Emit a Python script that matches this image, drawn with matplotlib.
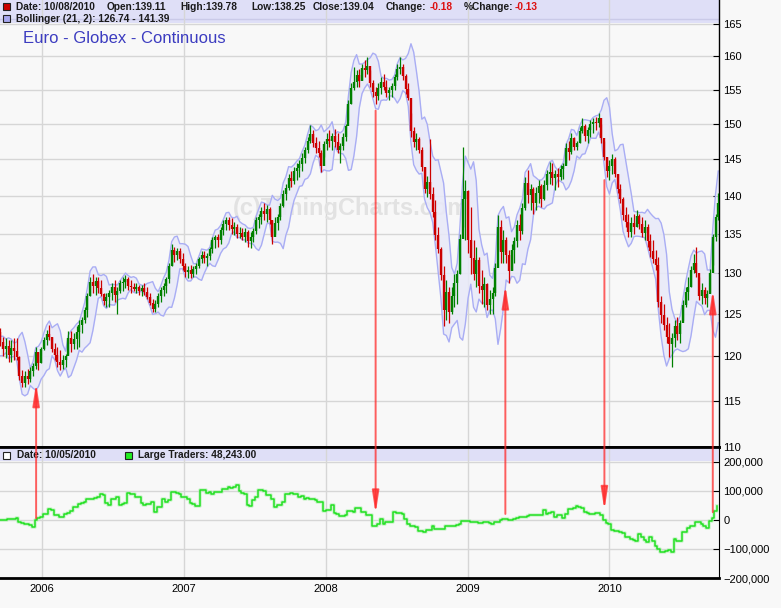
import numpy as np
import pandas as pd
import matplotlib
matplotlib.use("Agg")
import matplotlib.pyplot as plt
import matplotlib.dates as mdates
from matplotlib.patches import Rectangle, ConnectionPatch
from matplotlib.ticker import FixedLocator, FuncFormatter, NullLocator

plt.rcParams['font.family'] = ['Liberation Sans', 'DejaVu Sans']

# Weekly Euro FX (Globex continuous)
weeks = pd.date_range("2005-09-16", periods=265, freq="7D")
first_open = 122.8
wk_low = [
    121.2, 120.0, 119.8, 119.4, 119.4, 119.6, 119.6, 117.3, 116.5, 116.5,
    116.9, 117.1, 117.7, 118.6, 118.4, 119.2, 120.7, 121.3, 121.9, 120.5,
    119.6, 118.8, 118.4, 118.6, 118.8, 120.3, 120.5, 120.9, 120.9, 121.1,
    122.7, 123.9, 124.6, 127.1, 127.5, 127.3, 127.5, 127.1, 126.0, 125.8,
    125.8, 126.6, 126.4, 125.0, 127.5, 127.7, 128.1, 127.9, 127.5, 127.7,
    127.5, 127.3, 127.1, 127.3, 126.8, 126.0, 125.2, 125.2, 125.8, 126.4,
    127.1, 127.5, 128.7, 130.8, 131.4, 131.6, 131.2, 130.4, 129.5, 129.3,
    129.3, 129.5, 129.9, 130.6, 131.2, 131.2, 130.8, 131.6, 132.5, 133.1,
    133.3, 133.7, 134.8, 135.4, 135.4, 135.0, 134.8, 134.4, 134.4, 134.1,
    133.9, 133.3, 133.1, 133.9, 135.0, 135.7, 136.3, 136.7, 136.5, 136.3,
    133.7, 135.0, 135.5, 136.7, 138.5, 139.4, 140.7, 141.2, 141.6, 142.1,
    142.5, 143.4, 144.4, 145.8, 147.2, 146.7, 145.8, 145.3, 143.2, 145.3,
    146.2, 146.7, 146.2, 146.7, 145.8, 144.4, 146.2, 147.6, 150.5, 152.9,
    154.9, 155.4, 155.4, 156.4, 156.9, 157.4, 155.4, 153.9, 152.9, 153.4,
    154.4, 154.9, 153.9, 153.4, 153.9, 154.9, 156.4, 157.4, 156.4, 154.4,
    153.4, 148.1, 146.7, 146.2, 145.8, 143.4, 140.3, 139.8, 139.6, 137.2,
    134.1, 132.5, 129.1, 123.5, 124.2, 123.9, 125.0, 125.8, 126.2, 129.9,
    135.9, 134.1, 132.5, 129.9, 129.1, 128.3, 127.5, 126.2, 125.8, 125.4,
    125.0, 125.0, 127.1, 132.9, 131.2, 131.2, 131.2, 128.7, 130.4, 131.2,
    133.3, 134.2, 135.0, 138.1, 139.0, 138.1, 137.6, 138.1, 139.0, 138.5,
    139.4, 140.7, 141.6, 141.4, 140.7, 141.2, 142.1, 142.3, 144.4, 144.8,
    145.7, 146.2, 146.2, 147.2, 148.6, 147.6, 147.2, 148.1, 148.6, 149.1,
    149.5, 147.2, 144.8, 142.5, 142.1, 143.0, 142.5, 140.3, 139.0, 136.8,
    135.9, 134.6, 134.6, 135.0, 135.9, 135.6, 134.6, 134.2, 133.3, 132.0,
    131.2, 130.4, 125.8, 123.9, 123.1, 121.5, 119.9, 118.8, 121.1, 121.9,
    121.5, 124.2, 125.8, 126.6, 128.3, 130.0, 129.5, 126.6, 126.2, 126.2,
    125.8, 127.5, 131.0, 134.0, 136.8,
]
wk_high = [
    123.3, 122.3, 122.1, 121.9, 121.9, 122.1, 122.1, 120.0, 118.4, 118.3,
    118.6, 118.8, 119.2, 121.1, 120.5, 121.1, 122.3, 123.1, 123.7, 122.3,
    121.5, 121.1, 120.7, 120.1, 120.3, 122.9, 122.9, 122.7, 123.5, 124.2,
    124.6, 125.8, 127.5, 129.5, 129.9, 129.5, 129.5, 129.1, 127.5, 127.5,
    127.9, 128.7, 129.1, 128.3, 129.1, 129.5, 129.7, 129.5, 129.1, 128.7,
    128.7, 128.5, 128.5, 128.7, 128.3, 127.5, 126.8, 126.6, 127.5, 128.3,
    128.7, 129.5, 131.2, 133.7, 133.3, 133.1, 133.1, 132.5, 131.2, 130.8,
    131.0, 130.8, 131.2, 132.0, 132.7, 132.7, 132.5, 133.3, 134.6, 134.8,
    135.0, 135.9, 136.7, 137.2, 137.2, 137.0, 136.5, 136.3, 135.9, 135.7,
    135.7, 135.5, 135.2, 135.7, 137.2, 137.6, 138.5, 139.0, 138.7, 138.5,
    136.7, 137.2, 137.6, 139.0, 140.7, 141.6, 143.0, 143.4, 143.9, 144.4,
    144.8, 145.8, 146.7, 148.1, 149.8, 149.1, 148.1, 147.6, 146.2, 147.6,
    148.6, 149.1, 148.6, 149.3, 148.6, 147.2, 148.6, 150.0, 153.4, 155.9,
    158.4, 157.9, 158.1, 158.9, 159.4, 159.9, 157.9, 156.4, 155.4, 155.9,
    156.9, 157.4, 156.4, 155.4, 155.9, 157.4, 158.9, 159.9, 158.9, 157.4,
    155.9, 151.5, 149.5, 148.6, 148.1, 146.7, 143.9, 142.6, 147.8, 141.2,
    139.4, 135.9, 133.3, 130.8, 129.1, 128.3, 128.3, 129.9, 130.4, 135.0,
    146.7, 142.1, 140.7, 138.5, 134.1, 133.3, 132.0, 130.4, 129.5, 128.7,
    127.9, 128.3, 131.2, 137.4, 136.8, 135.4, 134.6, 132.9, 133.7, 134.6,
    136.8, 137.6, 139.0, 142.5, 143.5, 141.6, 141.2, 141.2, 142.1, 141.6,
    142.1, 143.5, 144.6, 144.4, 143.5, 143.7, 144.2, 144.4, 147.2, 147.6,
    148.6, 148.1, 147.6, 149.5, 150.8, 150.0, 149.5, 150.5, 150.8, 151.0,
    151.5, 150.0, 147.6, 145.3, 144.8, 145.7, 145.3, 143.0, 141.6, 139.8,
    138.5, 137.6, 137.2, 137.6, 138.1, 137.6, 137.2, 136.8, 136.3, 135.0,
    134.2, 132.9, 132.0, 127.1, 126.2, 124.6, 123.9, 122.7, 124.2, 124.6,
    124.2, 126.6, 128.3, 129.5, 130.8, 132.4, 133.3, 129.5, 128.7, 128.3,
    127.9, 130.5, 135.0, 137.5, 140.4,
]
wk_close = [
    121.6, 120.8, 121.2, 120.2, 121.0, 120.6, 119.9, 117.8, 117.0, 117.8,
    117.4, 118.3, 118.9, 120.5, 119.2, 120.8, 121.9, 122.6, 122.3, 120.9,
    120.2, 119.4, 119.0, 119.6, 120.0, 122.1, 121.4, 122.0, 122.8, 123.6,
    124.3, 125.5, 127.2, 128.9, 128.4, 129.0, 128.1, 127.4, 126.5, 127.0,
    127.5, 128.2, 127.3, 127.8, 128.7, 128.9, 129.2, 128.4, 128.3, 128.0,
    128.2, 127.8, 128.1, 127.6, 127.0, 126.3, 125.6, 126.2, 127.1, 127.9,
    128.4, 129.2, 130.9, 132.9, 132.2, 132.7, 131.8, 130.9, 130.1, 130.3,
    129.8, 130.5, 130.9, 131.7, 132.3, 131.9, 132.1, 133.0, 134.1, 134.5,
    134.2, 135.5, 136.3, 136.8, 136.1, 135.6, 135.9, 134.9, 135.1, 134.6,
    135.2, 134.0, 134.5, 135.3, 136.7, 137.1, 138.0, 137.6, 138.2, 136.8,
    134.5, 136.4, 137.2, 138.6, 140.2, 141.0, 142.4, 142.0, 143.3, 143.8,
    144.3, 145.2, 146.3, 147.6, 148.5, 147.3, 146.6, 145.9, 144.0, 147.1,
    147.8, 147.5, 148.2, 147.4, 146.3, 146.8, 148.1, 149.6, 152.9, 155.3,
    156.1, 157.2, 156.3, 158.2, 158.0, 158.6, 156.0, 154.6, 154.0, 155.2,
    156.1, 155.4, 154.5, 154.9, 155.5, 156.8, 158.1, 158.4, 157.0, 155.1,
    153.8, 148.9, 147.4, 147.8, 146.2, 143.9, 140.9, 141.9, 140.2, 137.8,
    134.8, 133.0, 129.7, 125.4, 127.6, 125.2, 127.1, 128.8, 129.8, 134.3,
    139.5, 140.6, 134.2, 131.9, 129.8, 131.6, 128.4, 127.9, 128.6, 126.1,
    126.8, 127.5, 130.6, 135.8, 132.6, 134.1, 132.2, 130.2, 132.9, 134.0,
    136.1, 135.3, 138.4, 141.7, 140.1, 140.9, 139.0, 140.4, 141.3, 139.6,
    141.5, 142.9, 143.2, 142.4, 142.9, 142.5, 143.6, 144.0, 146.5, 146.0,
    147.9, 146.7, 147.2, 149.0, 149.6, 148.3, 149.1, 149.9, 150.2, 150.1,
    150.8, 147.9, 145.3, 143.4, 144.1, 145.0, 143.0, 140.9, 139.6, 137.4,
    136.5, 135.2, 136.4, 135.8, 137.3, 136.2, 135.1, 135.9, 134.0, 132.7,
    131.8, 131.0, 126.4, 124.8, 123.6, 122.3, 121.4, 122.1, 123.5, 122.6,
    123.9, 126.1, 127.6, 128.3, 130.4, 131.2, 130.0, 127.2, 127.9, 126.9,
    127.4, 130.0, 134.6, 137.1, 139.04,
]

# COT large traders net position (thousands of contracts), weekly Tuesdays
cot_weeks = pd.date_range("2005-09-13", periods=265, freq="7D")
large_traders = [
    -2, -2, -2, 2, 1, 2, 6, -8, -12, -14,
    -16, -18, -25, 0, 6, 8, 21, 20, 36, 35,
    17, 16, 9, 10, 19, 22, 30, 44, 45, 53,
    59, 60, 70, 73, 73, 74, 77, 88, 86, 58,
    52, 70, 72, 79, 50, 55, 56, 93, 90, 88,
    79, 78, 58, 52, 53, 55, 62, 27, 44, 45,
    70, 62, 67, 96, 95, 91, 90, 79, 79, 73,
    56, 55, 47, 46, 102, 102, 91, 96, 89, 95,
    97, 96, 106, 106, 112, 108, 112, 120, 100, 91,
    90, 50, 49, 67, 79, 102, 102, 100, 85, 84,
    73, 44, 50, 52, 62, 88, 89, 91, 90, 90,
    79, 80, 73, 74, 70, 70, 69, 62, 60, 30,
    35, 35, 50, 23, 21, 12, 12, 15, 30, 30,
    27, 42, 40, 26, 26, 18, 18, -23, -20, -16,
    3, -14, -8, -8, -8, 26, 24, 23, 21, 3,
    -14, -20, -23, -25, -39, -40, -41, -35, -35, -23,
    -31, -32, -31, -30, -23, -23, -22, -20, -17, -14,
    -5, -5, -5, -6, -8, -8, -11, -10, -9, -8,
    -11, -16, -8, -6, -2, 2, 3, -2, -2, 3,
    5, 9, 11, 11, 13, 15, 18, 17, 18, 17,
    35, 21, 23, 26, 9, 18, 17, 7, 21, 38,
    38, 40, 49, 44, 40, 26, 24, 21, 21, 23,
    23, 18, -2, -11, -14, -35, -37, -37, -43, -44,
    -58, -60, -66, -71, -74, -48, -60, -69, -77, -60,
    -74, -89, -100, -112, -112, -108, -104, -112, -66, -74,
    -74, -43, -43, -28, -23, -23, -8, -8, -14, -23,
    -28, -5, 5, 30, 48.243,
]

# signal arrows between the two panels
arrow_dates = ["2005-12-17", "2008-05-09", "2009-04-08", "2009-12-19", "2010-09-24"]
arrow_prices = [117.0, 151.9, 128.5, 142.1, 127.9]
arrow_traders = [5, 20, 20, 32, 26]
arrow_up = [True, False, True, False, True]

BG = "#f8f8f8"
BAND = "#dfdff7"

fig = plt.figure(figsize=(7.81, 6.08), dpi=100, facecolor=BG)
ax = fig.add_axes([0, 1 - 447 / 608, 719 / 781, 447 / 608], facecolor=BG)
ax2 = fig.add_axes([0, 30 / 608, 719 / 781, 131 / 608], facecolor=BG, sharex=ax)

x = mdates.date2num(weeks)
close = np.array(wk_close)
opn = np.r_[first_open, close[:-1]]
cols = np.where(close >= opn, "#008000", "#cc0000")

# Bollinger band on the weekly closes (about 21 trading days)
s = pd.Series(close)
mid = s.rolling(5, min_periods=2).mean().bfill()
sd = s.rolling(5, min_periods=2).std().bfill()
upper, lower = mid + 2 * sd, mid - 2 * sd

ax.fill_between(x, lower, upper, color="#e8e9f9", alpha=0.85, lw=0, zorder=1)
ax.plot(x, upper, color="#a9adf4", lw=1.0, zorder=2)
ax.plot(x, lower, color="#a9adf4", lw=1.0, zorder=2)

ax.vlines(x, wk_low, wk_high, colors=cols, lw=0.9, zorder=4)
ax.vlines(x, np.minimum(opn, close), np.maximum(opn, close), colors=cols, lw=1.7, zorder=4)

ax.set_yscale("log")
ax.set_ylim(110, 168.9)
ax.set_xlim(mdates.datestr2num("2005-09-15"), mdates.datestr2num("2010-10-10"))
ax.yaxis.set_major_locator(FixedLocator(list(range(110, 170, 5))))
ax.yaxis.set_major_formatter(FuncFormatter(lambda v, p: f"{v:.0f}"))
ax.yaxis.set_minor_locator(NullLocator())
ax.yaxis.tick_right()
ax.tick_params(axis="y", direction="in", length=4, pad=3, labelsize=8, colors="black")
ax.xaxis.set_major_locator(mdates.YearLocator())
ax.tick_params(axis="x", length=0, labelbottom=False)
ax.set_axisbelow(True)
ax.grid(True, color="#d6d6d6", lw=1)
for sp in ["left", "top"]:
    ax.spines[sp].set_visible(False)
ax.spines["right"].set_linewidth(1)
ax.spines["bottom"].set_linewidth(2)
ax.add_patch(Rectangle((0, 1 - 23 / 447), 1, 23 / 447, transform=ax.transAxes,
                       fc=BAND, ec="none", zorder=0.3))
ax.axhline(165.8, color="#cacae8", lw=1, zorder=0.35)

ax.text(351 / 781, 1 - 208 / 608, "(c)TimingCharts.com", transform=fig.transFigure,
        ha="center", va="center", fontsize=17, fontweight="bold", color="#e2e2e2",
        zorder=0.8)

# Large traders panel
lt = np.array(large_traders) * 1000
x2 = mdates.date2num(cot_weeks)
ax2.step(x2, lt, where="post", color="#b0f0b0", lw=2.6, alpha=0.6, zorder=3)
ax2.step(x2, lt, where="post", color="#22e022", lw=1.1, zorder=4)
ax2.set_ylim(-200000, 250000)
ax2.yaxis.set_major_locator(FixedLocator([-200000, -100000, 0, 100000, 200000]))
ax2.yaxis.set_major_formatter(FuncFormatter(lambda v, p: f"{v:,.0f}".replace("-", "\u2212")))
ax2.yaxis.tick_right()
ax2.tick_params(axis="y", direction="in", length=4, pad=3, labelsize=8, colors="black")
ax2.xaxis.set_major_locator(mdates.YearLocator())
ax2.xaxis.set_major_formatter(mdates.DateFormatter("%Y"))
ax2.tick_params(axis="x", length=0, pad=4, labelsize=8)
ax2.set_axisbelow(True)
ax2.grid(True, color="#d6d6d6", lw=1)
ax2.spines["left"].set_visible(False)
ax2.spines["top"].set_linewidth(2)
ax2.spines["bottom"].set_linewidth(2)
ax2.add_patch(Rectangle((0, 117 / 131), 1, 14 / 131, transform=ax2.transAxes,
                        fc=BAND, ec="none", zorder=0.3))

# arrows
for d, p, t, up in zip(arrow_dates, arrow_prices, arrow_traders, arrow_up):
    xd = mdates.datestr2num(d)
    pa, pb = (xd, t * 1000), (xd, p)
    ca, cb = ax2.transData, ax.transData
    if not up:
        pa, pb, ca, cb = pb, pa, cb, ca
    con = ConnectionPatch(xyA=pa, coordsA=ca, xyB=pb, coordsB=cb,
                          arrowstyle="-|>,head_length=1.1,head_width=0.17",
                          mutation_scale=12, color="#ff2a2a", alpha=0.75, lw=1.4,
                          shrinkA=0, shrinkB=0, zorder=5)
    fig.add_artist(con)


def fx(px):
    return px / 781


def fy(py):
    return 1 - py / 608


# header texts
hdr = dict(fontsize=7.3, fontweight="bold", color="#1a1a1a", va="center")
fig.add_artist(Rectangle((fx(3), fy(10)), 7 / 781, 7 / 608, transform=fig.transFigure,
                         fc="#cc0000", ec="#222222", lw=0.8))
for px, txt, c in [(16, "Date: 10/08/2010", None), (107, "Open:139.11", None),
                   (180, "High:139.78", None), (251, "Low:138.25", None),
                   (313, "Close:139.04", None), (386, "Change:", None),
                   (430, "-0.18", "#dd1111"), (464, "%Change:", None),
                   (515, "-0.13", "#dd1111")]:
    kw = dict(hdr)
    if c:
        kw["color"] = c
    fig.text(fx(px), fy(6.5), txt, **kw)

fig.add_artist(Rectangle((fx(3), fy(22)), 7 / 781, 7 / 608, transform=fig.transFigure,
                         fc="#a8a8f0", ec="#222222", lw=0.8))
fig.text(fx(16), fy(18.5), "Bollinger (21, 2): 126.74 - 141.39", **hdr)

fig.text(fx(23), fy(38.5), "Euro - Globex - Continuous", fontsize=12,
         color="#3c3cc0", va="center")

fig.add_artist(Rectangle((fx(3), fy(459)), 7 / 781, 7 / 608, transform=fig.transFigure,
                         fc="white", ec="#222222", lw=0.8))
fig.text(fx(17), fy(455), "Date: 10/05/2010", **hdr)
fig.add_artist(Rectangle((fx(125), fy(459)), 7 / 781, 7 / 608, transform=fig.transFigure,
                         fc="#22ee22", ec="#222222", lw=0.8))
fig.text(fx(138), fy(455), "Large Traders: 48,243.00", **hdr)

fig.savefig("out.png", dpi=100, facecolor=BG)
